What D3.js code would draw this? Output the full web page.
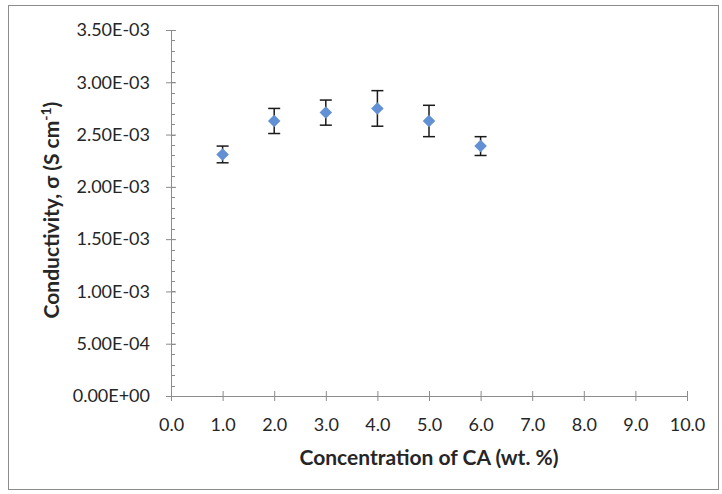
<!DOCTYPE html>
<html>
<head>
<meta charset="utf-8">
<script src="https://cdn.jsdelivr.net/npm/d3@7"></script>
<style>
  body { margin: 0; background: #fff; }
  svg { display: block; }
  text { font-family: Lato, "Open Sans", sans-serif; fill: #262626; }
</style>
</head>
<body>
<div id="chart"></div>
<script>
// concentration of CA (wt. %)
var concentration = [1, 2, 3, 4, 5, 6];
// conductivity (S cm-1)
var conductivity = [2.31e-3, 2.63e-3, 2.71e-3, 2.75e-3, 2.63e-3, 2.39e-3];
// error (+/-)
var errorValues = [0.08e-3, 0.12e-3, 0.12e-3, 0.17e-3, 0.15e-3, 0.09e-3];
var xTicks = [0, 1, 2, 3, 4, 5, 6, 7, 8, 9, 10];
var yTicks = [0, 0.5e-3, 1.0e-3, 1.5e-3, 2.0e-3, 2.5e-3, 3.0e-3, 3.5e-3];

var width = 722;
var height = 494;
var margin = { top: 30, right: 35, bottom: 98, left: 171 };
var innerWidth = width - margin.left - margin.right;
var innerHeight = height - margin.top - margin.bottom;

var data = concentration.map(function(c, i) {
  return { x: c, y: conductivity[i], e: errorValues[i] };
});

var svg = d3.select("#chart").append("svg")
  .attr("width", width)
  .attr("height", height);

// chart border
svg.append("rect")
  .attr("x", 8.5).attr("y", 5.5)
  .attr("width", 710).attr("height", 484)
  .attr("fill", "none")
  .attr("stroke", "#8c8c8c")
  .attr("stroke-width", 1);

var g = svg.append("g")
  .attr("transform", "translate(" + margin.left + "," + margin.top + ")");

var xScale = d3.scaleLinear().domain([0, 10]).range([0, innerWidth]);
var yScale = d3.scaleLinear().domain([0, 3.5e-3]).range([innerHeight, 0]);

// minor y ticks
var minorY = d3.range(0, 3.5e-3 + 1e-9, 0.1e-3);
g.selectAll(".minor")
  .data(minorY)
  .enter().append("line")
  .attr("class", "minor")
  .attr("x1", 0).attr("x2", 4)
  .attr("y1", function(d) { return Math.round(yScale(d)) + 0.5; })
  .attr("y2", function(d) { return Math.round(yScale(d)) + 0.5; })
  .attr("stroke", "#8c8c8c");

// x axis
var xAxis = g.append("g")
  .attr("class", "x axis")
  .attr("transform", "translate(0," + innerHeight + ")")
  .call(d3.axisBottom(xScale).tickValues(xTicks).tickSize(0).tickPadding(22)
    .tickFormat(d3.format(".1f")));
xAxis.attr("font-size", 18).attr("font-family", "Lato");
xAxis.select(".domain").attr("stroke", "#8c8c8c");
xAxis.selectAll(".tick line").remove();
xAxis.selectAll(".tick").append("line")
  .attr("y1", -5).attr("y2", 5).attr("stroke", "#8c8c8c");

// y axis
var yAxis = g.append("g")
  .attr("class", "y axis")
  .call(d3.axisLeft(yScale).tickValues(yTicks).tickSize(0).tickPadding(21)
    .tickFormat(function(d) {
      var s = d.toExponential(2).toUpperCase();
      var m = s.match(/E([+-])(\d+)/);
      return s.replace(/E([+-])(\d+)/, "E" + m[1] + (m[2].length < 2 ? "0" + m[2] : m[2]));
    }));
yAxis.attr("font-size", 18).attr("font-family", "Lato");
yAxis.select(".domain").attr("stroke", "#8c8c8c");
yAxis.selectAll(".tick line").remove();
yAxis.selectAll(".tick").append("line")
  .attr("x1", -5).attr("x2", 5).attr("stroke", "#8c8c8c");

// error bars
var bars = g.selectAll(".err")
  .data(data)
  .enter().append("g")
  .attr("class", "err");
bars.append("line")
  .attr("x1", function(d) { return xScale(d.x); })
  .attr("x2", function(d) { return xScale(d.x); })
  .attr("y1", function(d) { return yScale(d.y + d.e); })
  .attr("y2", function(d) { return yScale(d.y - d.e); })
  .attr("stroke", "#1a1a1a").attr("stroke-width", 1.5);
bars.selectAll(".cap")
  .data(function(d) { return [[d.x, d.y + d.e], [d.x, d.y - d.e]]; })
  .enter().append("line")
  .attr("x1", function(d) { return xScale(d[0]) - 6; })
  .attr("x2", function(d) { return xScale(d[0]) + 6; })
  .attr("y1", function(d) { return yScale(d[1]); })
  .attr("y2", function(d) { return yScale(d[1]); })
  .attr("stroke", "#1a1a1a").attr("stroke-width", 1.5);

// diamonds
g.selectAll(".pt")
  .data(data)
  .enter().append("path")
  .attr("class", "pt")
  .attr("d", d3.symbol().type(d3.symbolDiamond2).size(100))
  .attr("transform", function(d) {
    return "translate(" + xScale(d.x) + "," + yScale(d.y) + ")";
  })
  .attr("fill", "#6190d4");

// axis titles
svg.append("text")
  .attr("x", 429)
  .attr("y", 465)
  .attr("text-anchor", "middle")
  .attr("font-size", 21)
  .attr("font-weight", "bold")
  .text("Concentration of CA (wt. %)");

var yTitle = svg.append("text")
  .attr("transform", "translate(59,210) rotate(-90)")
  .attr("text-anchor", "middle")
  .attr("font-size", 21)
  .attr("font-weight", "bold");
yTitle.append("tspan").text("Conductivity, σ (S cm");
yTitle.append("tspan").attr("dy", -8).attr("font-size", 14).text("-1");
yTitle.append("tspan").attr("dy", 8).text(")");
</script>
</body>
</html>
